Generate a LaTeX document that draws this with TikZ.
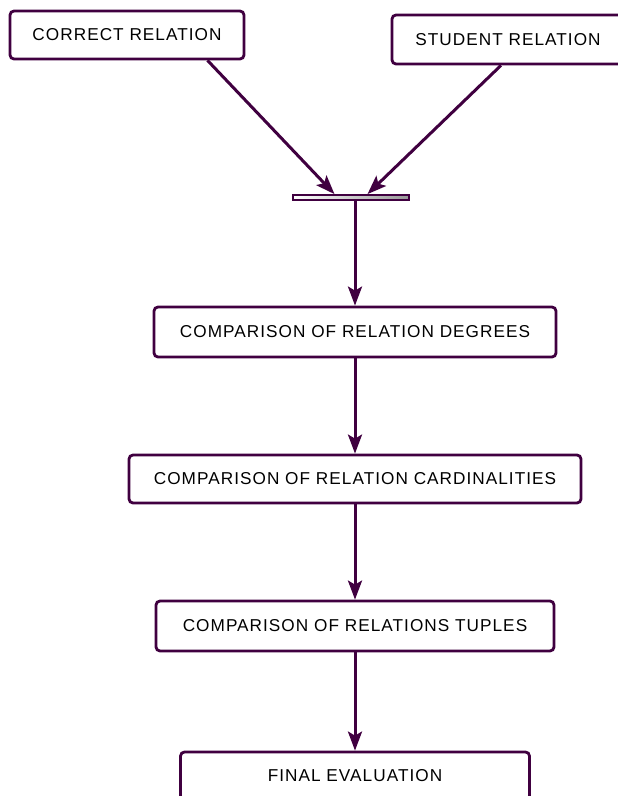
\documentclass[tikz,border=0pt]{standalone}
\usepackage{fontspec}
\setmainfont{Liberation Sans}
\newfontfamily\boxfont[LetterSpace=6]{Liberation Sans}
\usetikzlibrary{arrows.meta,calc}
\definecolor{plum}{HTML}{400040}
\begin{document}
\begin{tikzpicture}[x=1pt,y=-1pt,
  flowbox/.style={draw=plum,line width=2.8pt,rounded corners=4pt,fill=white,
    inner sep=0pt,font=\boxfont\fontsize{17.2}{20}\selectfont,text=black},
  flow/.style={draw=plum,line width=3pt,-{Stealth[length=19pt,width=14pt,inset=4pt]}}]
  \useasboundingbox (0,0) rectangle (618,796);
  \clip (0,0) rectangle (618,796);
  % input relations
  \node[flowbox,minimum width=234pt,minimum height=48pt] (correct) at (127,35) {CORRECT RELATION};
  \node[flowbox,minimum width=232pt,minimum height=49pt] (student) at (508,39.5) {STUDENT RELATION};
  % join bar
  \node[draw=plum,line width=1.8pt,left color=white,right color=gray!80,
    minimum width=116pt,minimum height=5pt,inner sep=0pt] (bar) at (351,197.5) {};
  % comparison stages
  \node[flowbox,minimum width=402pt,minimum height=50pt] (deg) at (355,332) {COMPARISON OF RELATION DEGREES};
  \node[flowbox,minimum width=452pt,minimum height=48pt] (card) at (355,479) {COMPARISON OF RELATION CARDINALITIES};
  \node[flowbox,minimum width=398pt,minimum height=50pt] (tup) at (355,626) {COMPARISON OF RELATIONS TUPLES};
  \node[flowbox,minimum width=349pt,minimum height=48pt] (final) at (355,776) {FINAL EVALUATION};
  % connectors
  \coordinate (c1) at ($(correct.south west)!0.84!(correct.south east)$);
  \coordinate (b1) at ($(bar.north west)!0.36!(bar.north east)$);
  \coordinate (s1) at ($(student.south west)!0.47!(student.south east)$);
  \coordinate (b2) at ($(bar.north west)!0.64!(bar.north east)$);
  \draw[flow] (c1) -- (b1);
  \draw[flow] (s1) -- (b2);
  \draw[flow] (bar.south -| deg.north) -- (deg.north);
  \draw[flow] (deg.south) -- (card.north);
  \draw[flow] (card.south) -- (tup.north);
  \draw[flow] (tup.south) -- (final.north);
\end{tikzpicture}
\end{document}
